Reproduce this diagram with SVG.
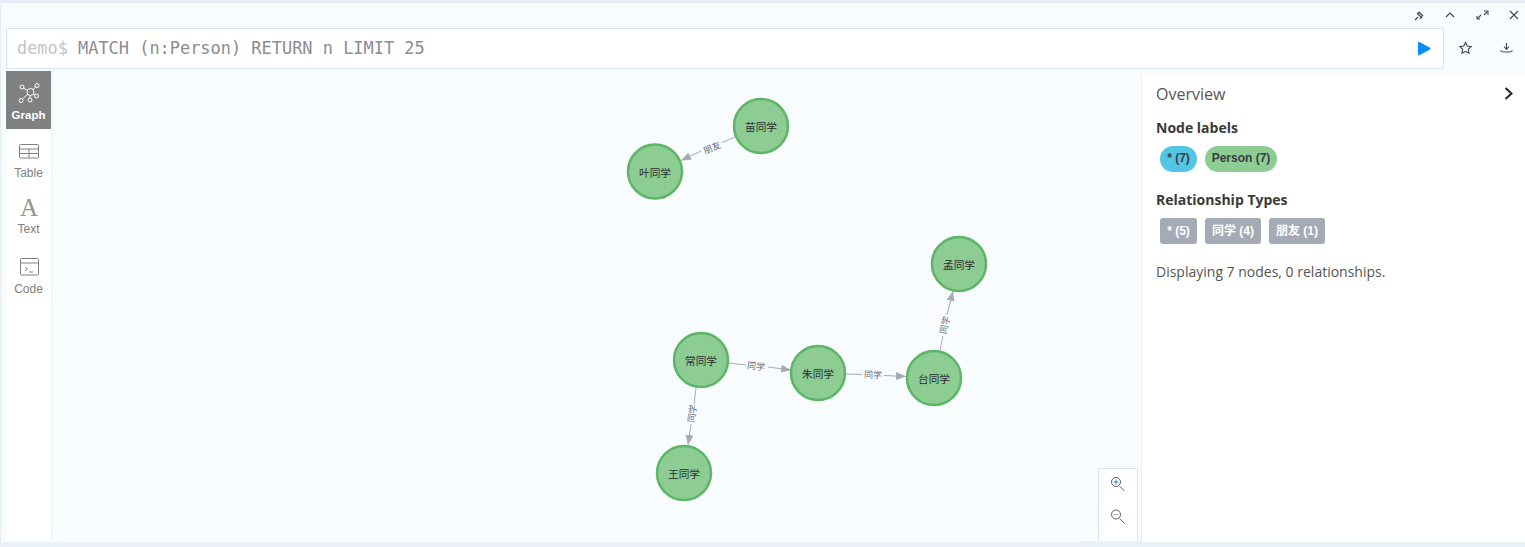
<svg xmlns="http://www.w3.org/2000/svg" width="1525" height="547" viewBox="0 0 1525 547">
<style>
.n circle{fill:#8dcc93;stroke:#5db665;stroke-width:2.5}
.n text{font:10.700px "Liberation Sans","Noto Sans CJK SC",sans-serif;fill:#2a2c34;text-anchor:middle}
.e{stroke:#a5abb6;stroke-width:1;fill:none}
.a{fill:#a5abb6}
.el{font:9px "Liberation Sans","Noto Sans CJK SC",sans-serif;fill:#6b6f78;text-anchor:middle}
.side{font:12px "Liberation Sans",Arial,sans-serif;fill:#808080;text-anchor:middle}
.ic{fill:none;stroke:#808080;stroke-width:1}
.tb{fill:none;stroke:#3f4650;stroke-width:1.100}
.h{font:bold 14px "Open Sans",sans-serif;fill:#3a3a3a}
.pill{font:bold 12px "Liberation Sans","Noto Sans CJK SC",sans-serif;text-anchor:middle}
</style>
<defs>
<marker id="arr" viewBox="0 0 10 8" refX="10" refY="4" markerWidth="10" markerHeight="8" markerUnits="userSpaceOnUse" orient="auto"><path class="a" d="M0 0L10 4L0 8Z"/></marker>
</defs>
<rect width="1525" height="547" fill="#f9fcff"/>
<rect width="1525" height="3" fill="#e4edf5"/>
<rect y="0" width="1" height="547" fill="#e4edf5"/>
<rect y="542" width="1525" height="5" fill="#e9f0f7"/>
<rect x="6.500" y="28.500" width="1437" height="40" rx="2" fill="#fff" stroke="#d6e4f0"/>
<text x="17" y="54" font-family="DejaVu Sans Mono,monospace" font-size="16.900" fill="#c3c4c6">demo$</text>
<text x="78" y="54" font-family="DejaVu Sans Mono,monospace" font-size="16.950" fill="#8a8d92">MATCH (n:Person) RETURN n LIMIT 25</text>
<path d="M1418 42.500v12a1 1 0 0 0 1.500.8L1430 49.500a1 1 0 0 0 0-1.800L1419.500 42a1 1 0 0 0-1.500.5Z" fill="#0a8cf5"/>
<g class="tb">
<path d="M1415 20l3-3M1417 13l5 5M1419 12l4 4M1417 14l3-2M1420 19l2-3"/>
<path d="M1446 17l4-4 4 4"/>
<path d="M1478 18l3-3M1487 12l-3 3M1477 16v3h3M1484 11h4v4"/>
<path d="M1510 11l8 8M1518 11l-8 8"/>
<path d="M1465.500 42.500l1.700 3.600 3.900.5-2.800 2.700.7 3.900-3.500-1.900-3.500 1.900.7-3.900-2.800-2.700 3.900-.5Z"/>
<path d="M1500.500 50.500q1 1.500 3 1.500h6q2 0 3-1.500M1506.500 43v6M1504 46.500l2.500 3 2.500-3"/>
</g>
<g id="sidebar">
<rect x="6" y="71" width="45.500" height="470" fill="#fff"/>
<rect x="51.500" y="71" width="1" height="470" fill="#e9eff5"/>
<rect x="6" y="71" width="45" height="58" fill="#808080"/>
<g fill="none" stroke="#fff" stroke-width="1">
<circle cx="30.500" cy="92" r="3.500"/><circle cx="22" cy="87" r="2"/><circle cx="37" cy="85.500" r="2"/><circle cx="36.500" cy="96" r="2"/><circle cx="30" cy="100" r="2"/><circle cx="21" cy="100.500" r="2"/>
<path d="M23.500 88l4 2.500M35.500 87l-3 3M34.500 95l-1-1M30 98l.3-2.500M22.500 99l5.500-5"/>
</g>
<text x="28.500" y="119" font-family="Liberation Sans,sans-serif" font-size="11.500" font-weight="bold" fill="#fff" text-anchor="middle">Graph</text>
<g class="ic"><rect x="19.500" y="144.500" width="19" height="13.500" rx="1"/><path d="M19.500 149h19M19.500 153.500h19M29 149v9"/></g>
<text class="side" x="28.500" y="177">Table</text>
<text x="29" y="216" font-family="Liberation Serif,serif" font-size="25" fill="#929292" text-anchor="middle">A</text>
<text class="side" x="28.500" y="233">Text</text>
<g class="ic"><rect x="20.500" y="258.500" width="18" height="16.500" rx="1"/><path d="M20.500 263h18M25 267l2.500 2-2.500 2M29 272h4"/></g>
<text class="side" x="28.500" y="293">Code</text>
</g>
<g id="connectors">
<line class="e" x1="735" y1="137" x2="722" y2="142.500"/>
<line class="e" x1="701" y1="151" x2="681" y2="160.500" marker-end="url(#arr)"/>
<line class="e" x1="729" y1="363" x2="746" y2="365"/>
<line class="e" x1="768" y1="367" x2="791" y2="370" marker-end="url(#arr)"/>
<line class="e" x1="846" y1="374" x2="862" y2="374.500"/>
<line class="e" x1="884" y1="375.500" x2="906" y2="376.500" marker-end="url(#arr)"/>
<line class="e" x1="940" y1="350" x2="943" y2="336"/>
<line class="e" x1="947" y1="315" x2="953" y2="291" marker-end="url(#arr)"/>
<line class="e" x1="696" y1="388" x2="694" y2="404"/>
<line class="e" x1="691" y1="424" x2="688" y2="445" marker-end="url(#arr)"/>
<text class="el" transform="translate(712 148) rotate(-23)" y="3">朋友</text>
<text class="el" transform="translate(756 366.500) rotate(6)" y="3">同学</text>
<text class="el" transform="translate(873 375) rotate(1)" y="3">同学</text>
<text class="el" transform="translate(945 325) rotate(-77) " y="3">同学</text>
<text class="el" transform="translate(692.500 413.500) rotate(-82)" y="3">同学</text>
</g>
<g id="n1" class="n"><circle cx="761" cy="126" r="27"/><text x="761" y="130.500">苗同学</text></g>
<g id="n2" class="n"><circle cx="655" cy="171.500" r="27"/><text x="655" y="177">叶同学</text></g>
<g id="n3" class="n"><circle cx="959" cy="264" r="27"/><text x="959" y="268.500">孟同学</text></g>
<g id="n4" class="n"><circle cx="701" cy="360" r="27"/><text x="701" y="364.500">常同学</text></g>
<g id="n5" class="n"><circle cx="818" cy="373" r="27"/><text x="818" y="378">朱同学</text></g>
<g id="n6" class="n"><circle cx="934" cy="378" r="27"/><text x="934" y="382.500">台同学</text></g>
<g id="n7" class="n"><circle cx="684" cy="473" r="27"/><text x="684" y="477.500">王同学</text></g>
<g id="zoom">
<rect x="1098.500" y="468.500" width="39" height="80" fill="#fff" stroke="#dbe3f0"/>
<rect x="1080" y="541" width="70" height="6" fill="#e9f0f7"/>
<circle cx="1116" cy="482" r="4.500" fill="none" stroke="#6a5a48"/><path d="M1119.500 486l5 5" stroke="#7a5a46"/><path d="M1116 479.500v5M1113.500 482h5" stroke="#1a8ad0"/>
<circle cx="1116" cy="514.500" r="4.500" fill="none" stroke="#6a5a48"/><path d="M1119.500 518.500l5 5" stroke="#a0503c"/><path d="M1113.500 514.500h5" stroke="#b9b9b9"/>
</g>
<g id="overview">
<rect x="1142" y="74" width="383" height="468" fill="#fff"/>
<rect x="1141" y="74" width="1" height="468" fill="#e9eff5"/>
<text x="1156" y="100" font-family="Open Sans,sans-serif" font-size="16" fill="#555">Overview</text>
<path d="M1505.500 88l6 5.500-6 5.500" fill="none" stroke="#222" stroke-width="2"/>
<text class="h" x="1156" y="133">Node labels</text>
<rect x="1160" y="146" width="37" height="26" rx="13" fill="#53c5e5"/>
<text class="pill" x="1178.500" y="162" fill="#3a3c44">* (7)</text>
<rect x="1205" y="146" width="72" height="26" rx="13" fill="#8dcc93"/>
<text class="pill" x="1241" y="162" fill="#3a3c44">Person (7)</text>
<text class="h" x="1156" y="205">Relationship Types</text>
<rect x="1160" y="218" width="37" height="26" rx="3" fill="#a5abb6"/>
<text class="pill" x="1178.500" y="234.500" fill="#fff">* (5)</text>
<rect x="1205" y="218" width="56" height="26" rx="3" fill="#a5abb6"/>
<text class="pill" x="1233" y="234.500" fill="#fff">同学 (4)</text>
<rect x="1269" y="218" width="56" height="26" rx="3" fill="#a5abb6"/>
<text class="pill" x="1297" y="234.500" fill="#fff">朋友 (1)</text>
<text x="1156" y="277" font-family="Open Sans,sans-serif" font-size="14" fill="#555">Displaying 7 nodes, 0 relationships.</text>
</g>
</svg>
